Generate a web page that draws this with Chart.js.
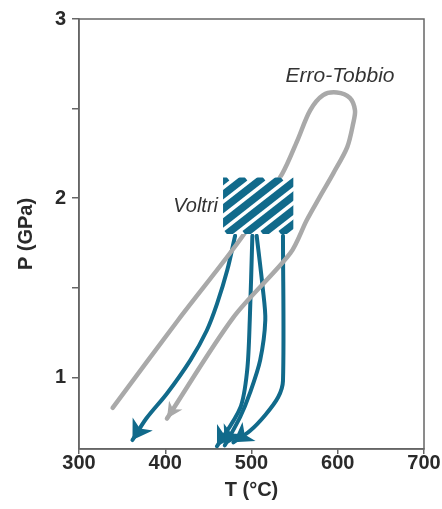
<!DOCTYPE html>
<html>
<head>
<meta charset="utf-8">
<script src="https://cdn.jsdelivr.net/npm/chart.js@4"></script>
<style>
  html, body { margin: 0; padding: 0; background: #fff; }
  #wrap { width: 442px; height: 509px; }
</style>
</head>
<body>
<div id="wrap"><canvas id="pt"></canvas></div>
<script>
// axis ticks
const xTicks = [300, 400, 500, 600, 700];
const yTicks = [1, 1.5, 2, 2.5, 3];

// Erro-Tobbio loop (T in °C, P in GPa)
const erroT = [339, 415, 490, 536, 553, 568, 583, 599, 614, 620, 618, 611, 595, 579, 564, 545, 479, 402];
const erroP = [0.83, 1.32, 1.79, 2.14, 2.32, 2.49, 2.575, 2.59, 2.56, 2.49, 2.42, 2.285, 2.14, 2.006, 1.877, 1.693, 1.335, 0.77];

// Voltri paths
const voltriAT = [481, 472, 460, 448, 429, 402, 378, 362];
const voltriAP = [1.79, 1.60, 1.41, 1.26, 1.095, 0.91, 0.77, 0.65];
const voltriBT = [501, 498, 495, 487, 460];
const voltriBP = [1.79, 1.32, 1.04, 0.83, 0.615];
const voltriCT = [506, 513, 516, 510, 498, 487, 469];
const voltriCP = [1.79, 1.50, 1.32, 1.095, 0.91, 0.78, 0.62];
const voltriDT = [536.5, 536.5, 531, 516, 498, 479];
const voltriDP = [1.79, 0.98, 0.89, 0.79, 0.70, 0.637];

// Voltri peak box
const boxT = [467, 548.5];
const boxP = [1.80, 2.115];

const teal = '#116a8b';
const grey = '#a9a9a9';
// arrowhead length / width / notch per dataset
const heads = [[16, 16, 0.7], [19, 24, 0.72], [19, 23, 0.72], [19, 23, 0.72], [19, 23, 0.72]];

const zip = (xs, ys) => xs.map((x, i) => ({ x: x, y: ys[i] }));

const boxPlugin = {
  id: 'voltriBox',
  afterDatasetsDraw(chart) {
    const ctx = chart.ctx;
    const xs = chart.scales.x, ys = chart.scales.y;
    const x1 = xs.getPixelForValue(boxT[0]), x2 = xs.getPixelForValue(boxT[1]);
    const y1 = ys.getPixelForValue(boxP[1]), y2 = ys.getPixelForValue(boxP[0]);
    ctx.save();
    ctx.beginPath();
    ctx.rect(x1, y1, x2 - x1, y2 - y1);
    ctx.clip();
    ctx.fillStyle = '#fff';
    ctx.fillRect(x1, y1, x2 - x1, y2 - y1);
    ctx.strokeStyle = teal;
    ctx.lineWidth = 7.5;
    const run = (y2 - y1) / Math.tan(38 * Math.PI / 180);
    for (let x = x1 + 4 - run - 18 * 6; x < x2 + 20; x += 18) {
      ctx.beginPath();
      ctx.moveTo(x, y2);
      ctx.lineTo(x + run, y1);
      ctx.stroke();
    }
    ctx.restore();
  }
};

const arrowPlugin = {
  id: 'arrows',
  afterDatasetsDraw(chart) {
    const ctx = chart.ctx;
    const xs = chart.scales.x, ys = chart.scales.y;
    chart.data.datasets.forEach((ds, i) => {
      const d = ds.data;
      const tip = d[d.length - 1], prev = d[d.length - 2];
      const tx = xs.getPixelForValue(tip.x), ty = ys.getPixelForValue(tip.y);
      const px = xs.getPixelForValue(prev.x), py = ys.getPixelForValue(prev.y);
      const a = Math.atan2(ty - py, tx - px);
      const [L, W, n] = heads[i];
      ctx.save();
      ctx.translate(tx, ty);
      ctx.rotate(a);
      ctx.beginPath();
      ctx.moveTo(0, 0);
      ctx.lineTo(-L, -W / 2);
      ctx.lineTo(-L * n, 0);
      ctx.lineTo(-L, W / 2);
      ctx.closePath();
      ctx.fillStyle = ds.borderColor;
      ctx.fill();
      ctx.restore();
    });
  }
};

const labelPlugin = {
  id: 'labels',
  afterDraw(chart) {
    const ctx = chart.ctx;
    const a = chart.chartArea;
    ctx.save();
    // frame
    ctx.strokeStyle = '#666';
    ctx.lineWidth = 1.5;
    ctx.strokeRect(a.left, a.top, a.right - a.left, a.bottom - a.top);
    ctx.fillStyle = '#333';
    ctx.font = 'italic 21px "Liberation Sans", Arial, sans-serif';
    ctx.textBaseline = 'middle';
    ctx.textAlign = 'center';
    ctx.fillText('Erro-Tobbio', 340, 76);
    ctx.font = 'italic 20px "Liberation Sans", Arial, sans-serif';
    ctx.textAlign = 'right';
    ctx.fillText('Voltri', 218, 206);
    ctx.restore();
  }
};

const line = (data, color, width) => ({
  data: data,
  showLine: true,
  borderColor: color,
  borderWidth: width,
  pointRadius: 0,
  tension: 0.3,
  borderCapStyle: 'round'
});

new Chart(document.getElementById('pt'), {
  type: 'scatter',
  data: {
    datasets: [
      line(zip(erroT, erroP), grey, 4.5),
      line(zip(voltriAT, voltriAP), teal, 4),
      line(zip(voltriBT, voltriBP), teal, 4),
      line(zip(voltriCT, voltriCP), teal, 4),
      line(zip(voltriDT, voltriDP), teal, 4)
    ]
  },
  options: {
    responsive: true,
    maintainAspectRatio: false,
    animation: false,
    events: [],
    layout: { padding: { top: 19, right: 18, left: 0, bottom: 0 } },
    plugins: { legend: { display: false }, tooltip: { enabled: false } },
    scales: {
      x: {
        type: 'linear',
        min: 300, max: 700,
        afterBuildTicks: (s) => { s.ticks = xTicks.map(v => ({ value: v })); },
        afterFit: (s) => { s.height = 60; },
        border: { display: true, color: '#666', width: 1.5 },
        grid: { drawOnChartArea: false, drawTicks: true, tickLength: 5, color: '#666', lineWidth: 1.5 },
        ticks: {
          padding: -3,
          color: '#2a2a2a',
          font: { family: '"Liberation Sans", Arial, sans-serif', size: 20, weight: 'bold' }
        },
        title: {
          display: true,
          text: 'T (°C)',
          color: '#2a2a2a',
          padding: { top: 0, bottom: 7 },
          font: { family: '"Liberation Sans", Arial, sans-serif', size: 20, weight: 'bold' }
        }
      },
      y: {
        type: 'linear',
        min: 0.6, max: 3,
        afterBuildTicks: (s) => { s.ticks = yTicks.map(v => ({ value: v })); },
        afterFit: (s) => { s.width = 79; },
        border: { display: true, color: '#666', width: 1.5 },
        grid: { drawOnChartArea: false, drawTicks: true, tickLength: 7, color: '#666', lineWidth: 1.5 },
        ticks: {
          padding: 6,
          color: '#2a2a2a',
          callback: (v) => Number.isInteger(v) ? String(v) : '',
          font: { family: '"Liberation Sans", Arial, sans-serif', size: 20, weight: 'bold' }
        },
        title: {
          display: true,
          text: 'P (GPa)',
          color: '#2a2a2a',
          padding: { top: 14, bottom: 0 },
          font: { family: '"Liberation Sans", Arial, sans-serif', size: 20, weight: 'bold' }
        }
      }
    }
  },
  plugins: [boxPlugin, arrowPlugin, labelPlugin]
});
</script>
</body>
</html>
